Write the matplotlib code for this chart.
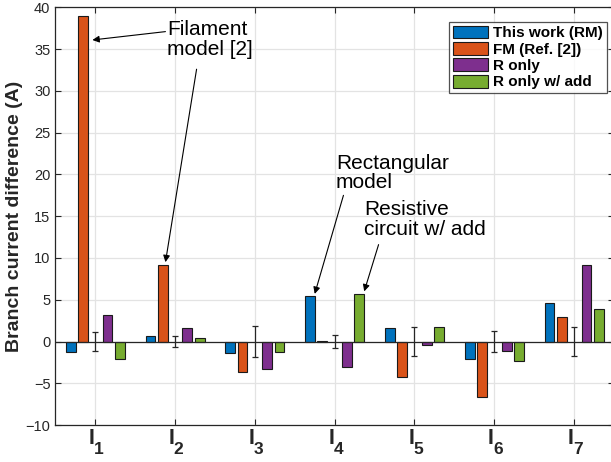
import matplotlib
matplotlib.use("Agg")
import matplotlib.pyplot as plt
import numpy as np

plt.rcParams['font.family'] = ['Liberation Sans', 'DejaVu Sans']

categories = ['1', '2', '3', '4', '5', '6', '7']
this_work = [-1.3, 0.64, -1.32, 5.47, 1.64, -2.1, 4.6]
fm_ref2 = [39.0, 9.18, -3.6, 0.12, -4.27, -6.6, 2.95]
meas_err = [1.1, 0.6, 1.8, 0.8, 1.7, 1.2, 1.75]
r_only = [3.23, 1.64, -3.35, -3.1, -0.44, -1.16, 9.14]
r_only_add = [-2.07, 0.4, -1.24, 5.63, 1.72, -2.35, 3.87]

series_labels = ['This work (RM)', 'FM (Ref. [2])', 'R only', 'R only w/ add']
colors = ['#0072BD', '#D95319', '#7E2F8E', '#77AC30']

fig = plt.figure(figsize=(6.11, 4.62), dpi=100)
ax = fig.add_axes([0.0905, 0.080, 1.005 - 0.0905, 0.984 - 0.080])

x = np.arange(1, len(categories) + 1)
step = 0.154
width = 0.123
axc = '#262626'

for vals, off, c, lab in zip([this_work, fm_ref2, r_only, r_only_add],
                              [-2, -1, 1, 2], colors, series_labels):
    ax.bar(x + off * step, vals, width, color=c, edgecolor='#1a1a1a',
           linewidth=0.8, label=lab, zorder=3)

ax.errorbar(x, np.zeros(len(x)), yerr=meas_err, fmt='none', ecolor=axc,
            elinewidth=0.9, capsize=2.5, capthick=0.9, zorder=4)
ax.axhline(0, color=axc, lw=0.9, zorder=3.5)

ax.set_xlim(0.5, 7.5)
ax.set_ylim(-10, 40)
ax.set_yticks(np.arange(-10, 41, 5))
ax.set_xticks(x)
ax.set_xticklabels([])
for xi, c in zip(x, categories):
    ax.annotate('I', xy=(xi, 0), xycoords=('data', 'axes fraction'),
                xytext=(-2.4, -13.3), textcoords='offset points',
                ha='center', va='baseline', fontsize=15.5, fontweight='bold',
                color=axc, annotation_clip=False)
    ax.annotate(c, xy=(xi, 0), xycoords=('data', 'axes fraction'),
                xytext=(2.6, -20.8), textcoords='offset points',
                ha='center', va='baseline', fontsize=12.5, fontweight='bold',
                color=axc, annotation_clip=False)

ax.grid(True, color='#e3e3e3', lw=0.9, zorder=0)
ax.set_axisbelow(True)
ax.tick_params(axis='both', direction='in', length=4, color=axc, top=True,
               right=True, width=0.8)
ax.tick_params(axis='y', labelsize=10.5, labelcolor=axc)
for s in ax.spines.values():
    s.set_color(axc)
    s.set_linewidth(0.9)

ax.set_ylabel('Branch current difference (A)', fontsize=14, fontweight='bold',
              color=axc, labelpad=2)

leg = ax.legend(loc='upper right', bbox_to_anchor=(0.992, 0.973),
                prop={'weight': 'bold', 'size': 11}, frameon=True,
                fancybox=False, edgecolor=axc, handlelength=2.3,
                handleheight=0.9, handletextpad=0.3, labelspacing=0.12,
                borderpad=0.25, borderaxespad=0.2)
leg.get_frame().set_linewidth(0.9)

arrow = dict(arrowstyle='-|>', color='k', lw=0.8, mutation_scale=10,
             shrinkA=0, shrinkB=0)
ax.text(1.897, 38.5, 'Filament\nmodel [2]', fontsize=15, va='top', ha='left',
        linespacing=1.05)
ax.annotate('', xy=(0.965, 36.1), xytext=(1.88, 37.1), arrowprops=arrow)
ax.annotate('', xy=(1.88, 9.5), xytext=(2.27, 32.6), arrowprops=arrow)

ax.text(4.016, 22.5, 'Rectangular\nmodel', fontsize=15, va='top', ha='left',
        linespacing=1.05)
ax.annotate('', xy=(3.75, 5.7), xytext=(4.11, 17.5), arrowprops=arrow)

ax.text(4.37, 16.9, 'Resistive\ncircuit w/ add', fontsize=15, va='top',
        ha='left', linespacing=1.05)
ax.annotate('', xy=(4.37, 6.0), xytext=(4.55, 11.6), arrowprops=arrow)

fig.savefig('out.png', dpi=100)
